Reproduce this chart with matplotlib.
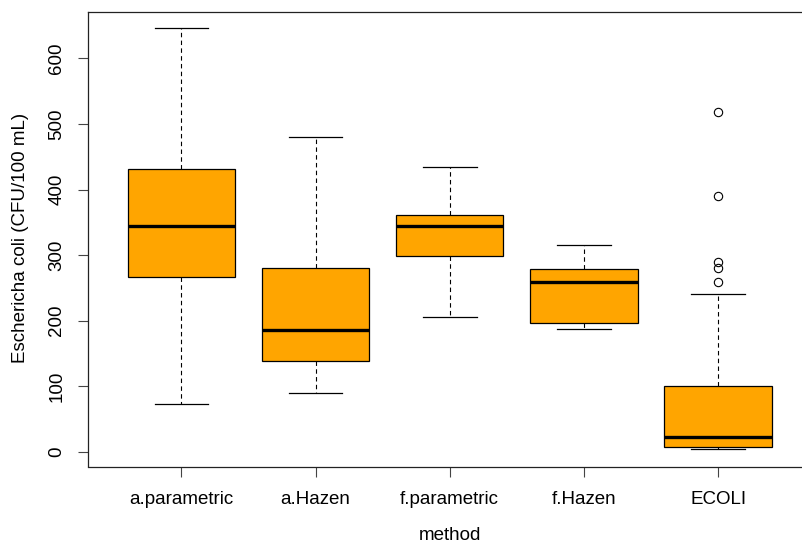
import matplotlib
matplotlib.use("Agg")
import matplotlib.pyplot as plt

plt.rcParams['font.family'] = ['Liberation Sans', 'DejaVu Sans']

methods = ["a.parametric", "a.Hazen", "f.parametric", "f.Hazen", "ECOLI"]
whisker_low = [72, 90, 205, 187, 3.5]
q1 = [266, 139, 298, 197, 6.5]
medians = [344, 186, 344, 259, 22]
q3 = [431, 280, 361, 279, 100]
whisker_high = [646, 480, 435, 315, 240]
outliers = [[], [], [], [], [519, 390, 289, 280, 259]]

stats = []
for i, m in enumerate(methods):
    stats.append(dict(label=m, whislo=whisker_low[i], q1=q1[i], med=medians[i],
                      q3=q3[i], whishi=whisker_high[i], fliers=outliers[i]))

fig = plt.figure(figsize=(8.02, 5.43), dpi=100)
ax = fig.add_axes([87.5/802, (543-466.5)/543, (812-87.5)/802, (466.5-11.5)/543])

ax.bxp(stats, positions=range(1, 6), widths=0.8, patch_artist=True,
       boxprops=dict(facecolor="#FFA500", edgecolor="black", linewidth=0.9),
       medianprops=dict(color="black", linewidth=2.4, solid_capstyle="butt"),
       whiskerprops=dict(color="black", linewidth=0.8, linestyle=(0, (4, 3))),
       capprops=dict(color="black", linewidth=0.9),
       capwidths=0.4,
       flierprops=dict(marker="o", markerfacecolor="none", markeredgecolor="black",
                       markersize=6, markeredgewidth=0.8))

ax.set_xlim(0.3, 5.7)
ax.set_ylim(-22.7, 671.7)
ax.set_yticks([0, 100, 200, 300, 400, 500, 600])
ax.set_xticks(range(1, 6))
ax.set_xticklabels(methods)
for s in ax.spines.values():
    s.set_linewidth(0.9)
    s.set_color("#222222")
ax.tick_params(axis="both", length=7, width=0.8, color="#444444", labelsize=13.5)
ax.tick_params(axis="x", pad=11)
ax.tick_params(axis="y", pad=9)
for lab in ax.get_yticklabels():
    lab.set_rotation(90)
    lab.set_va("center")

ax.set_ylabel("Eschericha coli (CFU/100 mL)", fontsize=13.5)
ax.yaxis.set_label_coords(-(87.5-29)/(812-87.5), (466.5-238)/(466.5-11.5))
ax.set_xlabel("method", fontsize=13.5)
ax.xaxis.set_label_coords((450-87.5)/(812-87.5), -(527-466.5)/(466.5-11.5))

fig.savefig("out.png", dpi=100)
